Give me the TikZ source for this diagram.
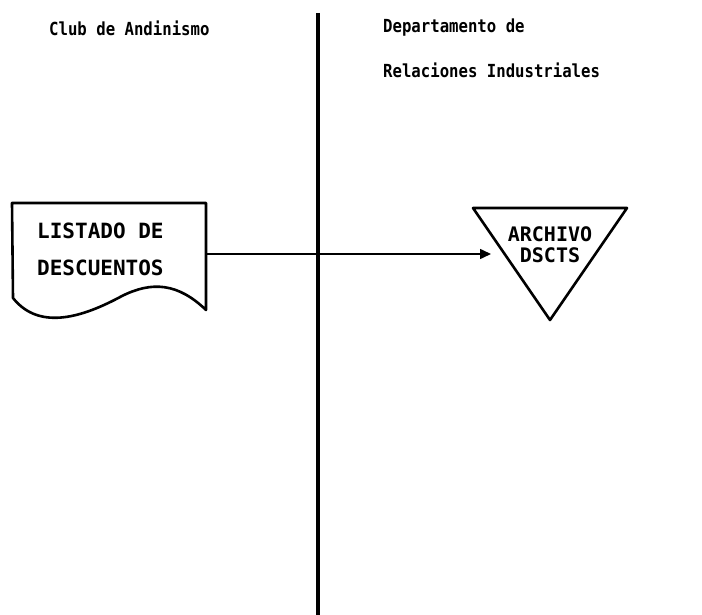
\documentclass[tikz,border=0pt]{standalone}
\usepackage{fontspec}
\setmainfont{DejaVu Sans Mono}
\newfontfamily\hdrfont[FakeStretch=0.87]{DejaVu Sans Mono}
\usetikzlibrary{arrows.meta}
\begin{document}
\begin{tikzpicture}[x=1pt,y=-1pt,
  hdr/.style={font=\hdrfont\fontsize{18}{18}\selectfont\bfseries, anchor=west, inner sep=0pt},
  lbl/.style={font=\fontsize{21}{22}\selectfont\bfseries, anchor=west, inner sep=0pt},
  tri/.style={font=\fontsize{20}{20}\selectfont\bfseries, inner sep=0pt},
  shapeline/.style={line width=2.6pt, line join=round},
  conn/.style={line width=1.6pt, -{Triangle[length=11pt,width=10pt]}}]
\useasboundingbox (0,0) rectangle (702,615);
% swimlane divider
\coordinate (divTop) at (318,13);
\coordinate (divBot) at (318,615);
\draw[line width=4pt] (divTop) -- (divBot);
% headers
\node[hdr] (h1) at (49,28) {Club de Andinismo};
\node[hdr] (h2) at (383,28) {Departamento de};
\node[hdr] (h3) at (383,70) {Relaciones Industriales};
% document shape
\draw[shapeline] (12,203) -- (206,203) -- (206,310)
  .. controls (178,283) and (152,281) .. (122,296)
  .. controls (85,316) and (40,332) .. (13,298) -- cycle;
\node[lbl] (d1) at (37,231) {LISTADO DE};
\node[lbl] (d2) at (37,268) {DESCUENTOS};
\coordinate (docR) at (206,254);
% file triangle
\draw[shapeline] (473,208) -- (627,208) -- (550,320) -- cycle;
\node[tri] (a1) at (550,234) {ARCHIVO};
\node[tri] (a2) at (550,255) {DSCTS};
\coordinate (archL) at (491,254);
% connector
\draw[conn] (docR) -- (archL);
\end{tikzpicture}
\end{document}
